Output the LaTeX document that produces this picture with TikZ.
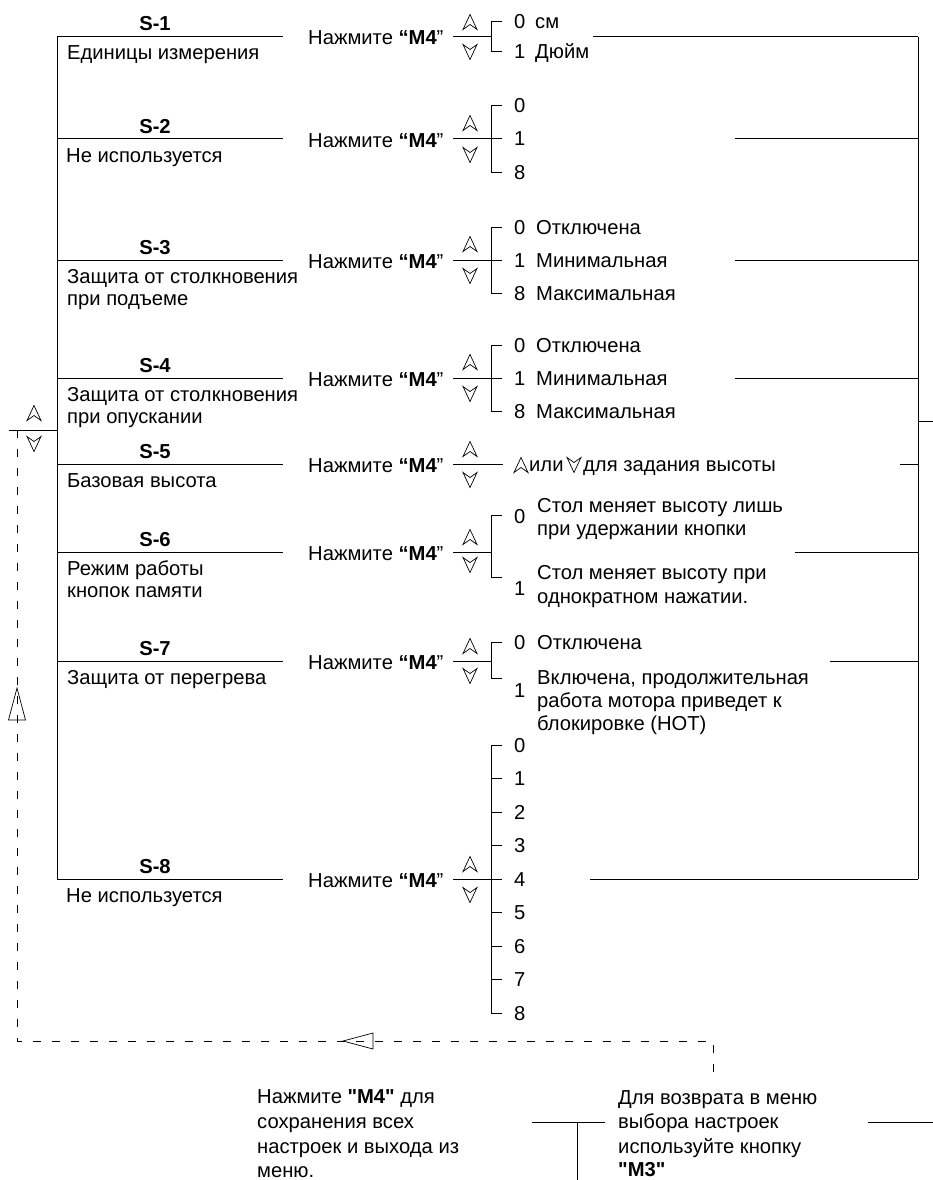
\documentclass[tikz,border=0pt]{standalone}
\usepackage{fontspec}
\setmainfont{Liberation Sans}[Ligatures=TeXOff]
\begin{document}
\begin{tikzpicture}[x=1pt,y=-1pt,
  ln/.style={line width=1pt},
  dsh/.style={line width=0.9pt, dash pattern=on 8pt off 11pt},
  glyph/.style={line width=0.7pt, line join=miter},
  txt/.style={font=\fontsize{20.2}{23}\selectfont, inner sep=0pt, anchor=base west},
  lbl/.style={font=\fontsize{20.2}{23}\selectfont\bfseries, inner sep=0pt, anchor=base},
  upg/.pic={\draw[glyph] (0,-7.5) -- (7,7.5) -- (0,2.5) -- (-7,7.5) -- cycle;},
  dng/.pic={\draw[glyph] (0,7.5) -- (7,-7.5) -- (0,-2.5) -- (-7,-7.5) -- cycle;},
]
\useasboundingbox (0,0) rectangle (933,1180);

% ---------- main frame ----------
\coordinate (LT) at (57,37);  \coordinate (LB) at (57,879);
\coordinate (RT) at (918,37); \coordinate (RB) at (918,879);
\coordinate (RX) at (918,421); \coordinate (RXe) at (933,421);
\draw[ln] (LT) -- (LB);
\draw[ln] (RT) -- (RB);
\draw[ln] (RX) -- (RXe);

% S-1
\coordinate (l1a) at (57,37); \coordinate (l1b) at (283,37);
\draw[ln] (l1a) -- (l1b);
\node[lbl] (s1) at (155,31) {S-1};
\node[txt] (d1a) at (67,60) {Единицы измерения};
\node[txt] (p1) at (308,45) {Нажмите \textbf{“M4}”};
\pic at (470,22) {upg}; \pic at (470,52) {dng};
\coordinate (st1a) at (453,37); \coordinate (st1b) at (491,37);
\draw[ln] (st1a) -- (st1b);
\coordinate (k1t) at (502,22); \coordinate (k1b) at (502,52);
\draw[ln] (k1t) -- (491,22) -- (491,52) -- (k1b);
\node[txt] (o1a) at (514,29) {0}; \node[txt] (t1a) at (535,29) {см};
\node[txt] (o1b) at (514,59) {1}; \node[txt] (t1b) at (535,59) {Дюйм};
\coordinate (r1a) at (593,37); \draw[ln] (r1a) -- (RT);

% S-2
\coordinate (l2a) at (57,139); \coordinate (l2b) at (283,139);
\draw[ln] (l2a) -- (l2b);
\node[lbl] (s2) at (155,133) {S-2};
\node[txt] (d2a) at (66,162) {Не используется};
\node[txt] (p2) at (308,147) {Нажмите \textbf{“M4}”};
\pic at (470,123) {upg}; \pic at (470,155) {dng};
\coordinate (st2a) at (453,139); \coordinate (st2b) at (502,139);
\draw[ln] (st2a) -- (st2b);
\coordinate (k2t) at (502,106); \coordinate (k2b) at (502,172);
\draw[ln] (k2t) -- (491,106) -- (491,172) -- (k2b);
\node[txt] (o2a) at (514,113) {0};
\node[txt] (o2b) at (514,146) {1};
\node[txt] (o2c) at (514,179) {8};
\coordinate (r2a) at (735,139); \coordinate (r2b) at (918,139); \draw[ln] (r2a) -- (r2b);

% S-3
\coordinate (l3a) at (57,260); \coordinate (l3b) at (283,260);
\draw[ln] (l3a) -- (l3b);
\node[lbl] (s3) at (155,254) {S-3};
\node[txt] (d3a) at (67,283) {Защита от столкновения};
\node[txt] (d3b) at (67,305) {при подъеме};
\node[txt] (p3) at (308,268) {Нажмите \textbf{“M4}”};
\pic at (470,244) {upg}; \pic at (470,276) {dng};
\coordinate (st3a) at (453,260); \coordinate (st3b) at (502,260);
\draw[ln] (st3a) -- (st3b);
\coordinate (k3t) at (502,227); \coordinate (k3b) at (502,293);
\draw[ln] (k3t) -- (491,227) -- (491,293) -- (k3b);
\node[txt] (o3a) at (514,234) {0}; \node[txt] (t3a) at (536,234) {Отключена};
\node[txt] (o3b) at (514,267) {1}; \node[txt] (t3b) at (536,267) {Минимальная};
\node[txt] (o3c) at (514,300) {8}; \node[txt] (t3c) at (536,300) {Максимальная};
\coordinate (r3a) at (735,260); \coordinate (r3b) at (918,260); \draw[ln] (r3a) -- (r3b);

% S-4
\coordinate (l4a) at (57,378); \coordinate (l4b) at (283,378);
\draw[ln] (l4a) -- (l4b);
\node[lbl] (s4) at (155,372) {S-4};
\node[txt] (d4a) at (67,401) {Защита от столкновения};
\node[txt] (d4b) at (67,423) {при опускании};
\node[txt] (p4) at (308,386) {Нажмите \textbf{“M4}”};
\pic at (470,362) {upg}; \pic at (470,394) {dng};
\coordinate (st4a) at (453,378); \coordinate (st4b) at (502,378);
\draw[ln] (st4a) -- (st4b);
\coordinate (k4t) at (502,345); \coordinate (k4b) at (502,411);
\draw[ln] (k4t) -- (491,345) -- (491,411) -- (k4b);
\node[txt] (o4a) at (514,352) {0}; \node[txt] (t4a) at (536,352) {Отключена};
\node[txt] (o4b) at (514,385) {1}; \node[txt] (t4b) at (536,385) {Минимальная};
\node[txt] (o4c) at (514,418) {8}; \node[txt] (t4c) at (536,418) {Максимальная};
\coordinate (r4a) at (735,378); \coordinate (r4b) at (918,378); \draw[ln] (r4a) -- (r4b);

% S-5
\coordinate (l5a) at (57,464); \coordinate (l5b) at (283,464);
\draw[ln] (l5a) -- (l5b);
\node[lbl] (s5) at (155,458) {S-5};
\node[txt] (d5a) at (67,487) {Базовая высота};
\node[txt] (p5) at (308,472) {Нажмите \textbf{“M4}”};
\pic at (470,449) {upg}; \pic at (470,480) {dng};
\coordinate (st5a) at (453,464); \coordinate (st5b) at (503,464);
\draw[ln] (st5a) -- (st5b);
\pic at (521,465) {upg};
\node[txt] (t5a) at (529,471) {или};
\pic at (574,465) {dng};
\node[txt] (t5b) at (583,471) {для задания высоты};
\coordinate (r5a) at (900,464); \coordinate (r5b) at (918,464); \draw[ln] (r5a) -- (r5b);

% S-6
\coordinate (l6a) at (57,552); \coordinate (l6b) at (283,552);
\draw[ln] (l6a) -- (l6b);
\node[lbl] (s6) at (155,546) {S-6};
\node[txt] (d6a) at (67,575) {Режим работы};
\node[txt] (d6b) at (67,597) {кнопок памяти};
\node[txt] (p6) at (308,560) {Нажмите \textbf{“M4}”};
\pic at (470,537) {upg}; \pic at (470,565) {dng};
\coordinate (st6a) at (453,552); \coordinate (st6b) at (491,552);
\draw[ln] (st6a) -- (st6b);
\coordinate (k6t) at (502,515); \coordinate (k6b) at (502,577);
\draw[ln] (k6t) -- (491,515) -- (491,577) -- (k6b);
\node[txt] (o6a) at (514,523) {0};
\node[txt] (t6a) at (537,512) {Стол меняет высоту лишь};
\node[txt] (t6b) at (537,535) {при удержании кнопки};
\node[txt] (o6b) at (514,595) {1};
\node[txt] (t6c) at (537,579) {Стол меняет высоту при};
\node[txt] (t6d) at (537,603) {однократном нажатии.};
\coordinate (r6a) at (795,552); \coordinate (r6b) at (918,552); \draw[ln] (r6a) -- (r6b);

% S-7
\coordinate (l7a) at (57,661); \coordinate (l7b) at (283,661);
\draw[ln] (l7a) -- (l7b);
\node[lbl] (s7) at (155,655) {S-7};
\node[txt] (d7a) at (67,684) {Защита от перегрева};
\node[txt] (p7) at (308,669) {Нажмите \textbf{“M4}”};
\pic at (470,646) {upg}; \pic at (470,676) {dng};
\coordinate (st7a) at (453,661); \coordinate (st7b) at (491,661);
\draw[ln] (st7a) -- (st7b);
\coordinate (k7t) at (502,642); \coordinate (k7b) at (502,678);
\draw[ln] (k7t) -- (491,642) -- (491,678) -- (k7b);
\node[txt] (o7a) at (514,649) {0}; \node[txt] (t7a) at (537,649) {Отключена};
\node[txt] (o7b) at (514,697) {1};
\node[txt] (t7b) at (537,684) {Включена, продолжительная};
\node[txt] (t7c) at (537,707) {работа мотора приведет к};
\node[txt] (t7d) at (537,730) {блокировке (НОТ)};
\coordinate (r7a) at (830,661); \coordinate (r7b) at (918,661); \draw[ln] (r7a) -- (r7b);

% S-8
\coordinate (l8a) at (57,879); \coordinate (l8b) at (283,879);
\draw[ln] (l8a) -- (l8b);
\node[lbl] (s8) at (155,873) {S-8};
\node[txt] (d8a) at (66,902) {Не используется};
\node[txt] (p8) at (308,887) {Нажмите \textbf{“M4}”};
\pic at (470,864) {upg}; \pic at (470,895) {dng};
\coordinate (st8a) at (453,879); \coordinate (st8b) at (491,879);
\draw[ln] (st8a) -- (st8b);
\coordinate (k8t) at (491,745); \coordinate (k8b) at (491,1013);
\draw[ln] (k8t) -- (k8b);
\foreach \i in {0,...,8} {
  \coordinate (k8\i) at (502,745+33.5*\i);
  \draw[ln] (491,745+33.5*\i) -- (k8\i);
  \node[txt] (o8\i) at (514,752+33.5*\i) {\i};
}
\coordinate (r8a) at (590,879); \draw[ln] (r8a) -- (RB);

% ---------- left return path ----------
\coordinate (tl) at (9,430); \coordinate (tr) at (57,430);
\draw[ln] (tl) -- (tr);
\pic at (34,413) {upg}; \pic at (34,444) {dng};
\coordinate (q0) at (17,430); \coordinate (q1) at (17,1041);
\coordinate (q2) at (713,1041); \coordinate (q3) at (713,1072);
\draw[dsh] (q0) -- (q1) -- (q2) -- (q3);
\draw[glyph] (17,688) -- (25.5,720) -- (8.5,720) -- cycle;
\draw[glyph] (343,1041) -- (373,1033) -- (373,1049) -- cycle;

% ---------- bottom notes ----------
\node[txt] (n1) at (257,1103) {Нажмите \textbf{"M4"} для};
\node[txt] (n2) at (257,1128) {сохранения всех};
\node[txt] (n3) at (257,1153) {настроек и выхода из};
\node[txt] (n4) at (257,1177) {меню.};
\node[txt] (m1) at (618,1104) {Для возврата в меню};
\node[txt] (m2) at (618,1128) {выбора настроек};
\node[txt] (m3) at (618,1153) {используйте кнопку};
\node[txt] (m4) at (618,1176) {\textbf{"M3"}};
\coordinate (b1) at (532,1122); \coordinate (b2) at (605,1122);
\coordinate (b3) at (577,1122); \coordinate (b4) at (577,1180);
\draw[ln] (b1) -- (b2);
\draw[ln] (b3) -- (b4);
\coordinate (c1) at (868,1122); \coordinate (c2) at (933,1122);
\draw[ln] (c1) -- (c2);
\end{tikzpicture}
\end{document}
